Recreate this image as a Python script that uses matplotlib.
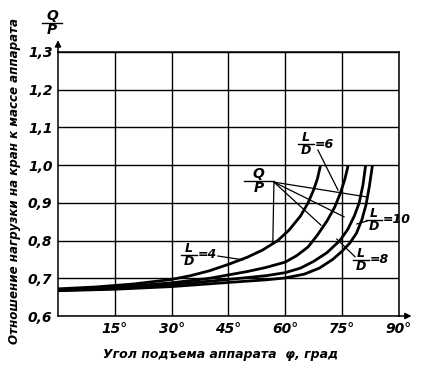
import matplotlib

matplotlib.use("Agg")
import matplotlib.pyplot as plt
from matplotlib.lines import Line2D

plt.rcParams["font.family"] = ["Liberation Sans Narrow", "DejaVu Sans"]

# angle of lift, degrees, and load ratio Q/P
ANGLE_LD4 = [0, 10, 20, 30, 35, 40, 45, 50, 54, 58, 61, 64, 66, 67.5, 68.5, 69.3]
RATIO_LD4 = [0.672, 0.677, 0.685, 0.697, 0.707, 0.720, 0.737, 0.756, 0.775, 0.800,
             0.828, 0.865, 0.900, 0.935, 0.965, 1.0]

ANGLE_LD6 = [0, 15, 30, 40, 45, 50, 55, 60, 63, 66, 68.5, 71, 73, 74.5, 75.7, 76.6]
RATIO_LD6 = [0.670, 0.676, 0.688, 0.700, 0.709, 0.718, 0.729, 0.743, 0.760, 0.783,
             0.815, 0.852, 0.888, 0.925, 0.962, 1.0]

ANGLE_LD8 = [0, 15, 30, 45, 55, 60, 64, 67.5, 71, 74.4, 76.5, 78.2, 79.5, 80.5, 81.2]
RATIO_LD8 = [0.668, 0.673, 0.683, 0.697, 0.707, 0.715, 0.727, 0.745, 0.768, 0.800,
             0.830, 0.865, 0.900, 0.948, 1.0]

ANGLE_LD10 = [0, 15, 30, 45, 55, 60, 65, 69, 72.5, 75, 77, 78.8, 80.2, 81.3, 82.2, 83]
RATIO_LD10 = [0.667, 0.671, 0.678, 0.689, 0.696, 0.701, 0.711, 0.727, 0.750, 0.772,
              0.793, 0.820, 0.855, 0.895, 0.945, 1.0]

X_TICKS = [15, 30, 45, 60, 75, 90]
X_LABELS = ["15°", "30°", "45°", "60°", "75°", "90°"]
Y_TICKS = [0.6, 0.7, 0.8, 0.9, 1.0, 1.1, 1.2, 1.3]
Y_LABELS = ["0,6", "0,7", "0,8", "0,9", "1,0", "1,1", "1,2", "1,3"]

TXT = dict(style="italic", fontweight="bold", color="black")


def frac(ax, x, y, num, den, suffix="", size=9, width=2.2, transform=None):
    """Draw a stacked num/den label with a bar, plus an optional '=n' suffix."""
    tr = transform if transform is not None else ax.transData
    ax.text(x, y, num, ha="center", va="bottom", fontsize=size, transform=tr, **TXT)
    ax.text(x, y, den, ha="center", va="top", fontsize=size, transform=tr, **TXT)
    ax.add_line(Line2D([x - width, x + width], [y, y], color="black", lw=1.0, transform=tr, clip_on=False))
    if suffix:
        ax.text(x + width, y, suffix, ha="left", va="center", fontsize=size, transform=tr, **TXT)


def leader(ax, x0, y0, x1, y1):
    ax.add_line(Line2D([x0, x1], [y0, y1], color="black", lw=0.9, clip_on=False))


fig = plt.figure(figsize=(4.28, 3.69), dpi=100)
ax = fig.add_axes([0.1355, 0.1436, 0.7967, 0.7155])

for angle, ratio in [
    (ANGLE_LD4, RATIO_LD4),
    (ANGLE_LD6, RATIO_LD6),
    (ANGLE_LD8, RATIO_LD8),
    (ANGLE_LD10, RATIO_LD10),
]:
    ax.plot(angle, ratio, color="black", lw=2.0, solid_capstyle="butt", solid_joinstyle="round")

ax.set_xlim(0, 90)
ax.set_ylim(0.6, 1.3)
ax.set_xticks(X_TICKS)
ax.set_xticklabels(X_LABELS, fontsize=10, **TXT)
ax.set_yticks(Y_TICKS)
ax.set_yticklabels(Y_LABELS, fontsize=10, **TXT)
ax.tick_params(length=0, pad=4)
ax.grid(visible=True, color="black", lw=1.0)
for spine in ax.spines.values():
    spine.set_linewidth(1.1)

# axis arrows
ax.annotate("", xy=(1.045, 0), xytext=(0.99, 0), xycoords="axes fraction",
            arrowprops=dict(arrowstyle="-|>", color="black", lw=1.1, mutation_scale=9))
ax.annotate("", xy=(0, 1.055), xytext=(0, 0.99), xycoords="axes fraction",
            arrowprops=dict(arrowstyle="-|>", color="black", lw=1.1, mutation_scale=9))

# curve labels
frac(ax, 34.6, 0.762, "L", "D", "=4")
leader(ax, 42.2, 0.759, 48.8, 0.749)
frac(ax, 65.5, 1.056, "L", "D", "=6")
leader(ax, 68.6, 1.040, 73.9, 0.934)
frac(ax, 83.4, 0.855, "L", "D", "=10")
leader(ax, 81.6, 0.852, 78.9, 0.844)
frac(ax, 80.0, 0.749, "L", "D", "=8")
leader(ax, 78.4, 0.757, 73.6, 0.804)

frac(ax, 53.0, 0.958, "Q", "P", size=10, width=4.0)
for tx, ty in [(56.7, 0.794), (81.3, 0.916), (75.5, 0.863), (69.4, 0.841)]:
    leader(ax, 57.0, 0.955, tx, ty)

# Q/P above the y axis
frac(ax, 52 / 428, 1 - 22.7 / 369, "Q", "P", size=10, width=0.024, transform=fig.transFigure)

fig.text(0.035, 0.51, "Отношение нагрузки на кран к массе аппарата", rotation=90,
         ha="center", va="center", fontsize=8.6, **TXT)
fig.text(0.515, 0.04, "Угол подъема аппарата  φ, град", ha="center", va="center", fontsize=9, **TXT)

fig.savefig("out.png", dpi=100)
